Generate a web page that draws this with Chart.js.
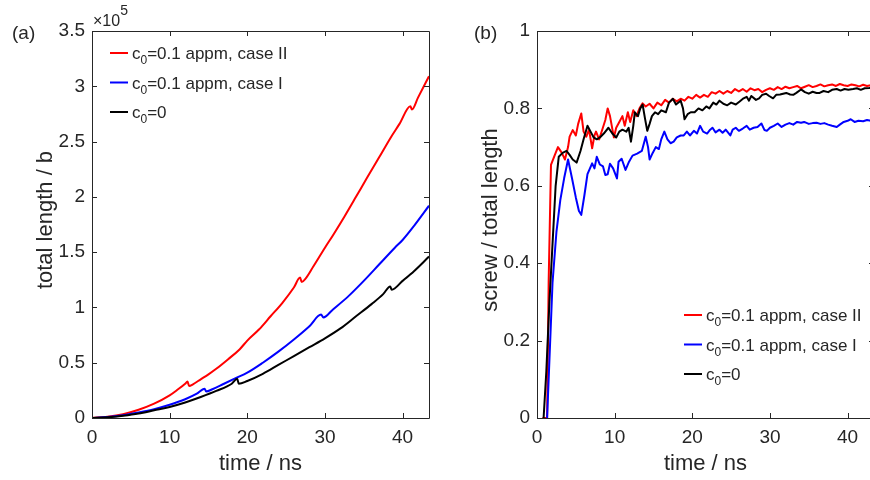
<!DOCTYPE html>
<html>
<head>
<meta charset="utf-8">
<script src="https://cdn.jsdelivr.net/npm/chart.js@4.4.1/dist/chart.umd.min.js"></script>
<style>
  html, body { margin: 0; padding: 0; background: #fff; overflow: hidden; width: 870px; height: 480px; }
  #left { position: absolute; left: 0; top: 0; }
  #right { position: absolute; left: 435px; top: 0; }
</style>
</head>
<body>
<canvas id="left" width="435" height="480"></canvas>
<canvas id="right" width="445" height="480"></canvas>
<script>
// legend labels, "_" marks the subscript
const seriesLabels = ['c_0=0.1 appm, case II', 'c_0=0.1 appm, case I', 'c_0=0']
const seriesColors = ['#ff0000', '#0000ff', '#000000']

// (a) total length / b  (x 10^5) vs time / ns
const lenTimeII = [0, 2, 4, 6, 8, 10, 11, 12, 12.3, 12.5, 13, 14, 15, 16, 17.5, 19, 20, 21.5, 23, 24.5, 26, 26.8, 27.0, 27.5, 28.5, 30, 31.1, 32.5, 34, 35.4, 37, 38.5, 39.6, 41.0, 41.2, 42, 43.4]
const lenCaseII = [0, 0.012, 0.035, 0.075, 0.13, 0.205, 0.255, 0.31, 0.33, 0.29, 0.305, 0.35, 0.395, 0.445, 0.53, 0.62, 0.7, 0.8, 0.92, 1.04, 1.18, 1.27, 1.23, 1.26, 1.37, 1.54, 1.66, 1.82, 2.0, 2.17, 2.36, 2.54, 2.66, 2.82, 2.79, 2.9, 3.09]

const lenTimeI = [0, 2, 4, 6, 8, 10, 12, 13.5, 14.5, 14.7, 15.5, 17, 18.5, 20, 22, 24, 26, 28, 29.5, 29.8, 31, 33, 35, 37, 39, 40, 41.5, 43.4]
const lenCaseI = [0, 0.008, 0.025, 0.05, 0.08, 0.12, 0.17, 0.22, 0.265, 0.24, 0.26, 0.31, 0.36, 0.41, 0.5, 0.6, 0.71, 0.83, 0.935, 0.91, 0.98, 1.1, 1.24, 1.39, 1.54, 1.61, 1.74, 1.92]

const lenTime0 = [0, 2, 4, 6, 8, 10, 12, 14, 16, 18, 18.7, 18.9, 20, 22, 24, 26, 28, 30, 32, 34, 36, 37.5, 38.4, 38.6, 40, 41.5, 43.4]
const lenC0 = [0, 0.006, 0.02, 0.04, 0.07, 0.1, 0.14, 0.19, 0.245, 0.31, 0.355, 0.31, 0.335, 0.4, 0.48, 0.56, 0.64, 0.72, 0.81, 0.92, 1.03, 1.12, 1.19, 1.16, 1.24, 1.33, 1.46]

// (b) screw / total length vs time / ns
const scrTimeII = [0.7, 1.3, 1.5, 1.8, 2.3, 2.7, 3.2, 3.6, 4.0, 4.2, 4.6, 5.0, 5.3, 5.7, 6.0, 6.35, 6.7, 7.1, 7.4, 7.6, 8.0, 8.4, 8.8, 9.1, 9.4, 9.9, 10.2, 10.6, 11.0, 11.3, 11.7, 12.0, 12.4, 12.8, 13.2, 13.6, 14.0, 14.5, 15.0, 15.5, 16.0, 16.5, 17.0, 17.5, 18.0, 18.5, 19.0, 19.5, 20.0, 20.5, 21.0, 21.5, 22.0, 22.5, 23.0, 23.5, 24.0, 24.5, 25.0, 25.5, 26.0, 26.5, 27.0, 27.5, 28.0, 28.5, 29.0, 29.5, 30.0, 30.5, 31.0, 31.5, 32.0, 32.5, 33.0, 33.5, 34.0, 34.5, 35.0, 35.5, 36.0, 36.5, 37.0, 37.5, 38.0, 38.5, 39.0, 39.5, 40.0, 40.5, 41.0, 41.5, 42.0, 42.5, 43.0, 43.4]
const scrCaseII = [0, 0, 0.35, 0.654, 0.68, 0.70, 0.685, 0.668, 0.70, 0.727, 0.744, 0.73, 0.76, 0.787, 0.74, 0.727, 0.745, 0.697, 0.73, 0.74, 0.72, 0.745, 0.77, 0.80, 0.78, 0.725, 0.75, 0.765, 0.78, 0.755, 0.79, 0.765, 0.795, 0.78, 0.80, 0.813, 0.805, 0.812, 0.8, 0.815, 0.808, 0.822, 0.815, 0.825, 0.818, 0.825, 0.82, 0.83, 0.825, 0.835, 0.828, 0.835, 0.83, 0.842, 0.838, 0.845, 0.838, 0.845, 0.84, 0.85, 0.844, 0.85, 0.843, 0.852, 0.847, 0.85, 0.842, 0.848, 0.852, 0.848, 0.855, 0.85, 0.856, 0.852, 0.855, 0.858, 0.852, 0.856, 0.86, 0.855, 0.858, 0.862, 0.857, 0.86, 0.862, 0.858, 0.863, 0.86, 0.858, 0.862, 0.86, 0.857, 0.861, 0.858, 0.86, 0.859]

const scrTime0 = [0.85, 1.2, 1.6, 2.0, 2.4, 2.8, 3.3, 3.8, 4.2, 4.6, 5.1, 5.6, 6.0, 6.5, 6.9, 7.3, 7.7, 8.1, 8.6, 9.2, 9.7, 10.2, 10.6, 11.0, 11.5, 11.8, 12.1, 12.4, 12.6, 13.0, 13.3, 13.6, 13.9, 14.2, 14.5, 14.8, 15.2, 15.6, 16.0, 16.6, 17.0, 17.5, 17.9, 18.5, 18.8, 19.0, 19.4, 19.8, 20.3, 20.8, 21.3, 21.8, 22.2, 22.7, 23.1, 23.5, 24.0, 24.5, 25.0, 25.6, 26.1, 26.6, 27.0, 27.3, 27.6, 28.2, 28.6, 29.0, 29.5, 29.9, 30.4, 30.8, 31.3, 31.7, 32.1, 32.6, 33.0, 33.4, 34.0, 34.5, 35.0, 35.5, 36.0, 36.4, 36.9, 37.5, 38.0, 38.6, 39.1, 39.6, 40.1, 40.7, 41.2, 41.7, 42.2, 42.8, 43.4]
const scrC0 = [0, 0.12, 0.3, 0.45, 0.6, 0.675, 0.685, 0.69, 0.68, 0.668, 0.66, 0.69, 0.72, 0.755, 0.74, 0.725, 0.72, 0.725, 0.735, 0.75, 0.735, 0.725, 0.74, 0.745, 0.74, 0.75, 0.714, 0.755, 0.79, 0.78, 0.80, 0.81, 0.775, 0.742, 0.76, 0.78, 0.79, 0.785, 0.795, 0.79, 0.815, 0.825, 0.81, 0.82, 0.80, 0.772, 0.785, 0.79, 0.79, 0.80, 0.795, 0.805, 0.80, 0.815, 0.81, 0.82, 0.812, 0.808, 0.815, 0.81, 0.818, 0.826, 0.83, 0.82, 0.832, 0.822, 0.826, 0.835, 0.838, 0.832, 0.826, 0.835, 0.836, 0.838, 0.84, 0.836, 0.835, 0.84, 0.849, 0.842, 0.838, 0.843, 0.84, 0.84, 0.845, 0.842, 0.848, 0.85, 0.846, 0.85, 0.848, 0.85, 0.852, 0.848, 0.852, 0.853, 0.855]

const scrTimeI = [1.3, 1.6, 2.0, 2.5, 3.0, 3.5, 4.0, 4.5, 5.0, 5.4, 5.7, 6.1, 6.5, 7.1, 7.4, 7.7, 8.1, 8.5, 8.8, 9.1, 9.4, 9.8, 10.3, 10.5, 10.9, 11.4, 11.8, 12.3, 12.9, 13.5, 14.0, 14.3, 14.5, 14.9, 15.3, 15.7, 16.0, 16.4, 16.8, 17.2, 17.6, 18.0, 18.5, 18.9, 19.3, 19.7, 20.2, 20.6, 21.0, 21.4, 21.9, 22.3, 22.6, 23.0, 23.5, 23.9, 24.3, 24.9, 25.2, 25.6, 26.0, 26.5, 27.0, 27.4, 27.9, 28.4, 28.9, 29.3, 29.6, 30.0, 30.5, 31.0, 31.5, 32.0, 32.5, 33.0, 33.5, 34.0, 34.4, 35.0, 35.5, 36.0, 36.5, 37.0, 37.5, 38.0, 38.6, 39.0, 39.5, 40.0, 40.4, 40.9, 41.4, 42.0, 42.5, 43.0, 43.4]
const scrCaseI = [0, 0.15, 0.35, 0.48, 0.563, 0.62, 0.668, 0.62, 0.57, 0.535, 0.525, 0.575, 0.63, 0.658, 0.645, 0.675, 0.655, 0.65, 0.628, 0.63, 0.657, 0.645, 0.619, 0.662, 0.67, 0.641, 0.66, 0.678, 0.683, 0.69, 0.727, 0.70, 0.668, 0.685, 0.70, 0.695, 0.72, 0.74, 0.72, 0.71, 0.714, 0.725, 0.73, 0.73, 0.74, 0.73, 0.742, 0.735, 0.755, 0.74, 0.735, 0.745, 0.75, 0.738, 0.745, 0.737, 0.745, 0.73, 0.745, 0.75, 0.742, 0.748, 0.755, 0.745, 0.75, 0.752, 0.761, 0.744, 0.742, 0.75, 0.755, 0.761, 0.752, 0.758, 0.762, 0.758, 0.765, 0.763, 0.765, 0.76, 0.762, 0.763, 0.76, 0.762, 0.758, 0.755, 0.752, 0.758, 0.765, 0.768, 0.772, 0.765, 0.768, 0.767, 0.77, 0.768, 0.768]

const timeTicks = [0, 10, 20, 30, 40]

const FONT = "'Liberation Sans', Arial, Helvetica, sans-serif"
const INK = '#262626'

function pts(xs, ys) {
  return xs.map((x, i) => ({ x: x, y: ys[i] }))
}

function datasets(series, smooth) {
  return series.map((s, i) => ({
    label: seriesLabels[i],
    data: pts(s[0], s[1]),
    borderColor: seriesColors[i],
    borderWidth: 2,
    pointRadius: 0,
    fill: false,
    cubicInterpolationMode: smooth ? 'monotone' : 'default',
    tension: 0,
    borderJoinStyle: 'round',
    order: 2 - i
  }))
}

function subText(ctx, label, x, y, size) {
  const m = label.match(/^(.*)_(.)(.*)$/)
  ctx.font = size + 'px ' + FONT
  ctx.fillText(m[1], x, y)
  let w = ctx.measureText(m[1]).width
  ctx.font = Math.round(size * 0.72) + 'px ' + FONT
  ctx.fillText(m[2], x + w, y + 5)
  w += ctx.measureText(m[2]).width
  ctx.font = size + 'px ' + FONT
  ctx.fillText(m[3], x + w, y)
}

// box, inward ticks, titles, legend
function decor(o) {
  return {
    id: 'decor',
    afterDraw(chart) {
      const ctx = chart.ctx
      const a = chart.chartArea
      const xs = chart.scales.x, ys = chart.scales.y
      ctx.save()
      ctx.strokeStyle = INK
      ctx.lineWidth = 1
      ctx.beginPath()
      ctx.rect(Math.round(a.left) + 0.5, Math.round(a.top) + 0.5, Math.round(a.right - a.left), Math.round(a.bottom - a.top))
      xs.ticks.forEach(t => {
        const p = Math.round(xs.getPixelForValue(t.value)) + 0.5
        ctx.moveTo(p, a.bottom); ctx.lineTo(p, a.bottom - 5)
        ctx.moveTo(p, a.top); ctx.lineTo(p, a.top + 5)
      })
      ys.ticks.forEach(t => {
        const p = Math.round(ys.getPixelForValue(t.value)) + 0.5
        ctx.moveTo(a.left, p); ctx.lineTo(a.left + 5, p)
        ctx.moveTo(a.right, p); ctx.lineTo(a.right - 5, p)
      })
      ctx.stroke()

      ctx.fillStyle = INK
      ctx.textBaseline = 'alphabetic'
      ctx.textAlign = 'left'
      ctx.font = '19px ' + FONT
      ctx.fillText(o.tag, o.tagX, 39)

      if (o.exp) {
        ctx.font = '16px ' + FONT
        ctx.fillText('\u00d710', 93, 26)
        const w = ctx.measureText('\u00d710').width
        ctx.font = '14px ' + FONT
        ctx.fillText('5', 93 + w, 15)
      }

      ctx.textAlign = 'center'
      ctx.font = '22px ' + FONT
      ctx.fillText(o.xTitle, (a.left + a.right) / 2, 470)
      ctx.save()
      ctx.translate(o.yTitleX, 220)
      ctx.rotate(-Math.PI / 2)
      ctx.fillText(o.yTitle, 0, 0)
      ctx.restore()

      ctx.textAlign = 'left'
      seriesLabels.forEach((lab, i) => {
        const y = o.legY + i * 29.5
        ctx.strokeStyle = seriesColors[i]
        ctx.lineWidth = 2
        ctx.beginPath()
        ctx.moveTo(o.legX, y); ctx.lineTo(o.legX + 18, y)
        ctx.stroke()
        ctx.fillStyle = INK
        subText(ctx, lab, o.legX + 22, y + 6, 17)
      })
      ctx.restore()
    }
  }
}

function makeChart(id, series, smooth, yMax, yStep, yWidth, o) {
  return new Chart(document.getElementById(id), {
    type: 'line',
    data: { datasets: datasets(series, smooth) },
    options: {
      responsive: false,
      animation: false,
      devicePixelRatio: 1,
      layout: { padding: { top: 31, right: 6, left: 0, bottom: 0 } },
      plugins: { legend: { display: false }, tooltip: { enabled: false } },
      scales: {
        x: {
          type: 'linear', min: 0, max: 43.4,
          grid: { display: false, drawTicks: false },
          border: { display: false },
          afterBuildTicks: s => { s.ticks = timeTicks.map(v => ({ value: v })) },
          afterFit: s => { s.height = 62 },
          ticks: { color: INK, font: { family: FONT, size: 19 }, padding: 8, maxRotation: 0 }
        },
        y: {
          type: 'linear', min: 0, max: yMax,
          grid: { display: false, drawTicks: false },
          border: { display: false },
          afterFit: s => { s.width = yWidth },
          ticks: {
            stepSize: yStep, color: INK, font: { family: FONT, size: 19 }, padding: 7,
            callback: v => String(Number(v.toFixed(2)))
          }
        }
      }
    },
    plugins: [decor(o)]
  })
}

makeChart('left',
  [[lenTimeII, lenCaseII], [lenTimeI, lenCaseI], [lenTime0, lenC0]],
  true, 3.5, 0.5, 92,
  { tag: '(a)', tagX: 12, exp: true, xTitle: 'time / ns', yTitle: 'total length / b', yTitleX: 52, legX: 110, legY: 53 })

makeChart('right',
  [[scrTimeII, scrCaseII], [scrTimeI, scrCaseI], [scrTime0, scrC0]],
  false, 1, 0.2, 102,
  { tag: '(b)', tagX: 39, exp: false, xTitle: 'time / ns', yTitle: 'screw / total length', yTitleX: 62, legX: 249, legY: 315 })
</script>
</body>
</html>
